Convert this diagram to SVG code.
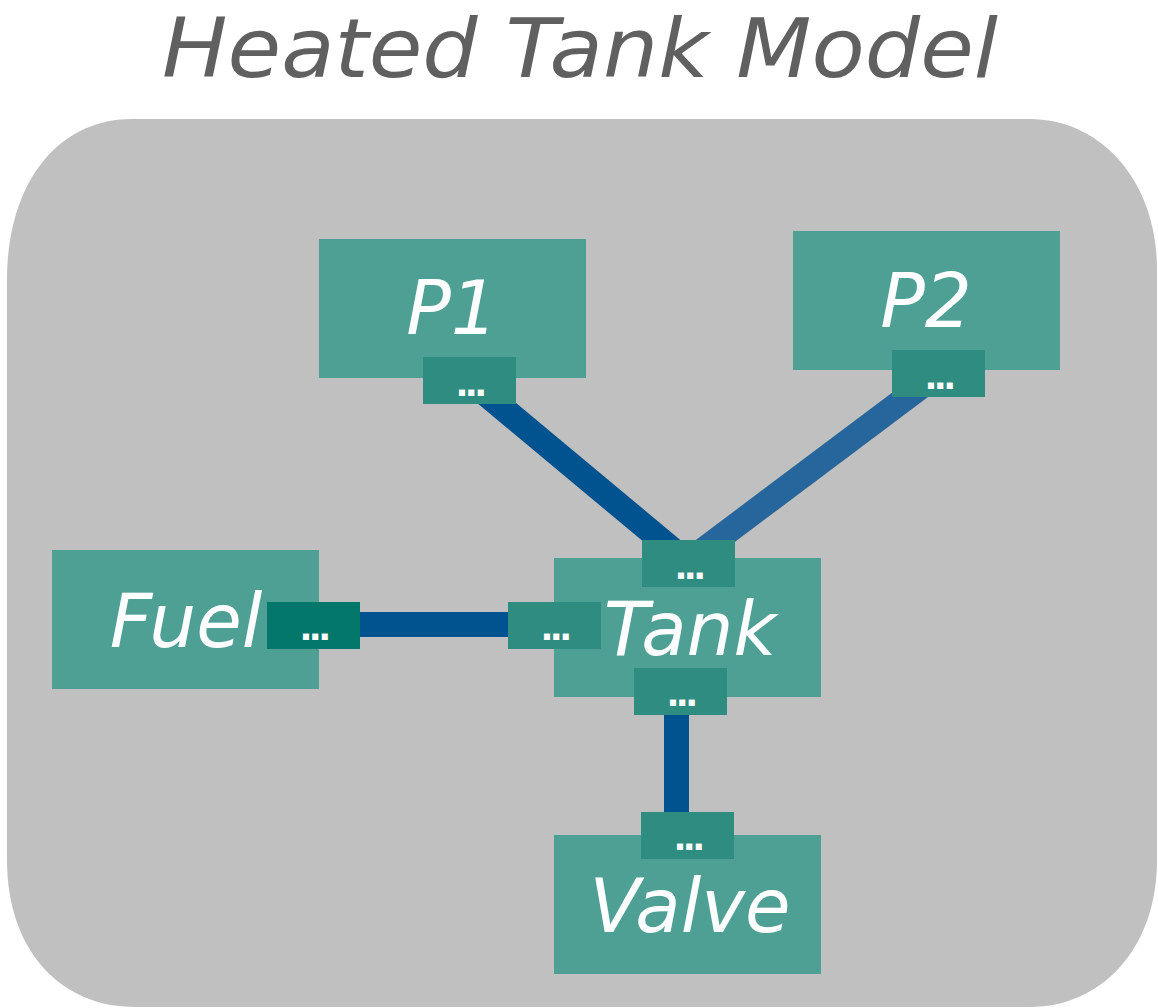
<svg xmlns="http://www.w3.org/2000/svg" width="1158" height="1008" viewBox="0 0 1158 1008">
  <style>
    .title { font-family: "DejaVu Sans", "Liberation Sans", sans-serif; font-style: italic; font-size: 82px; fill: #606060; text-anchor: middle; }
    .node { fill: #4fa094; }
    .port { fill: #2f8c80; }
    .port-alt { fill: #03786a; }
    .label { font-family: "DejaVu Sans", "Liberation Sans", sans-serif; font-style: italic; font-size: 74px; fill: #ffffff; text-anchor: middle; }
    .dots { font-family: "DejaVu Sans", "Liberation Sans", sans-serif; font-weight: bold; font-size: 34px; letter-spacing: -3.5px; fill: #ffffff; text-anchor: middle; }
    .conn { stroke-width: 25; fill: none; stroke-linecap: butt; }
    .c1 { stroke: #00538f; }
    .c2 { stroke: #26669c; }
  </style>

  <text class="title" x="580" y="77" textLength="836" lengthAdjust="spacingAndGlyphs">Heated Tank Model</text>

  <path id="background" d="M 132,119 H 1030 C 1100,119 1157,180 1157,270 V 860 C 1157,950 1100,1007 1030,1007 H 135 C 60,1007 7,950 7,860 V 280 C 7,180 60,119 132,119 Z" fill="#c0c0c0"/>

  <g id="connectors">
    <line class="conn c1" x1="469.5" y1="380.5" x2="688.5" y2="563"/>
    <line class="conn c2" x1="938.5" y1="373.5" x2="686" y2="563"/>
    <line class="conn c1" x1="313.5" y1="624.5" x2="554.5" y2="624.5"/>
    <line class="conn c1" x1="676.5" y1="691" x2="676.5" y2="835"/>
  </g>

  <g id="P1">
    <rect class="node" x="319" y="239" width="267" height="139"/>
    <text class="label" x="452" y="334">P1</text>
    <rect class="port" x="423" y="357" width="93" height="47"/>
    <text class="dots" x="469.5" y="396">...</text>
  </g>

  <g id="P2">
    <rect class="node" x="793" y="231" width="267" height="139"/>
    <text class="label" x="926" y="327">P2</text>
    <rect class="port" x="892" y="350" width="93" height="47"/>
    <text class="dots" x="938.5" y="389">...</text>
  </g>

  <g id="Fuel">
    <rect class="node" x="52" y="550" width="267" height="139"/>
    <text class="label" x="186" y="647">Fuel</text>
    <rect class="port-alt" x="267" y="602" width="93" height="47"/>
    <text class="dots" x="313.5" y="640">...</text>
  </g>

  <g id="Tank">
    <rect class="node" x="554" y="558" width="267" height="139"/>
    <text class="label" x="690" y="655">Tank</text>
    <rect class="port" x="642" y="540" width="93" height="47"/>
    <text class="dots" x="688.5" y="579">...</text>
    <rect class="port" x="508" y="602" width="93" height="47"/>
    <text class="dots" x="554.5" y="640">...</text>
    <rect class="port" x="634" y="668" width="93" height="47"/>
    <text class="dots" x="680.5" y="706">...</text>
  </g>

  <g id="Valve">
    <rect class="node" x="554" y="835" width="267" height="139"/>
    <text class="label" x="690" y="932">Valve</text>
    <rect class="port" x="641" y="812" width="93" height="47"/>
    <text class="dots" x="687.5" y="850">...</text>
  </g>
</svg>
